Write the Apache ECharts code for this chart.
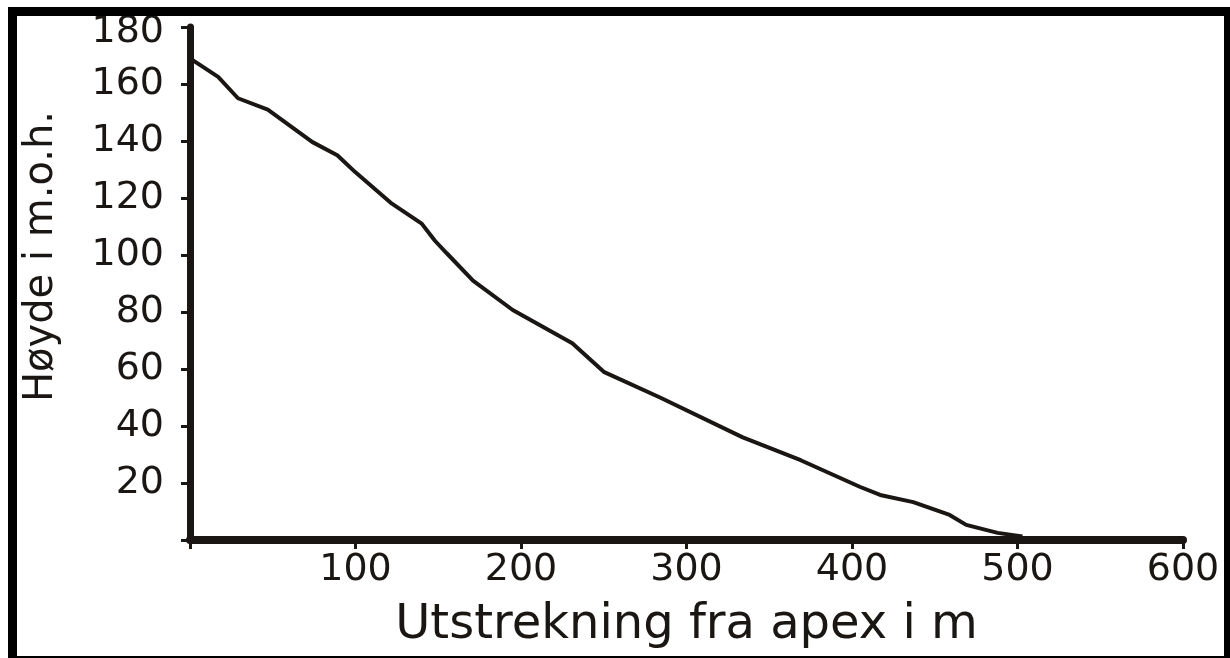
<!DOCTYPE html>
<html>
<head>
<meta charset="utf-8">
<script src="https://cdn.jsdelivr.net/npm/echarts@6/dist/echarts.min.js"></script>
<style>
html,body{margin:0;padding:0;background:#fff;}
#chart{width:1230px;height:658px;}
</style>
</head>
<body>
<div id="chart"></div>
<script>
// Distance from apex (m)
var distance = [0, 17, 29, 47, 74, 89, 100, 122, 140, 148, 155, 171, 195, 231, 250, 284, 334, 369, 405, 417, 437, 459, 469, 488, 503];
// Height (m.o.h.)
var height   = [169, 162.5, 155, 151, 139.6, 135, 129, 118, 111, 105, 100.7, 91, 80.7, 69, 59, 50, 36, 28, 18.6, 15.8, 13.3, 8.8, 5.3, 2.5, 1.2];
var xTicks = [0, 100, 200, 300, 400, 500, 600];
var yTicks = [0, 20, 40, 60, 80, 100, 120, 140, 160, 180];
var xTitle = 'Utstrekning fra apex i m';
var yTitle = 'Høyde i m.o.h.';

var seriesData = distance.map(function (d, i) { return [d, height[i]]; });
var ink = '#1a1614';
var font = 'DejaVu Sans';
var yMax = yTicks[yTicks.length - 1];

var chart = echarts.init(document.getElementById('chart'), null, {renderer: 'canvas'});
chart.setOption({
  backgroundColor: '#ffffff',
  animation: false,
  grid: {left: 190, right: 47, top: 27, bottom: 118, containLabel: false},
  xAxis: {
    type: 'value',
    min: xTicks[0], max: xTicks[xTicks.length - 1], interval: 100,
    name: xTitle,
    nameLocation: 'middle',
    nameGap: 62,
    nameTextStyle: {fontFamily: font, fontSize: 48, color: ink},
    axisLine: {show: true, onZero: false, lineStyle: {color: ink, width: 8}},
    axisTick: {show: true, inside: false, length: 9, lineStyle: {color: ink, width: 3}},
    axisLabel: {
      margin: 11, fontFamily: font, fontSize: 38, color: ink,
      formatter: function (v) { return v === 0 ? '' : String(v); }
    },
    splitLine: {show: false}
  },
  yAxis: {
    type: 'value',
    min: yTicks[0], max: yMax, interval: 20,
    name: yTitle,
    nameLocation: 'middle',
    nameGap: 128,
    nameRotate: 90,
    nameTextStyle: {fontFamily: font, fontSize: 40, color: ink, padding: [0, 0, 0, 54]},
    axisLine: {show: true, onZero: false, lineStyle: {color: ink, width: 7}},
    axisTick: {show: true, inside: false, length: 9, lineStyle: {color: ink, width: 3}},
    axisLabel: {
      margin: 26, fontFamily: font, fontSize: 38, color: ink,
      formatter: function (v) {
        if (v === 0) return '';
        if (v === yMax) return '{top|' + v + '}';
        return String(v);
      },
      rich: {top: {fontFamily: font, fontSize: 38, color: ink, padding: [10, 0, 0, 0]}}
    },
    splitLine: {show: false}
  },
  series: [{
    type: 'line',
    data: seriesData,
    showSymbol: false,
    smooth: false,
    lineStyle: {color: ink, width: 4},
    z: 1
  }],
  graphic: [{
    type: 'rect',
    shape: {x: 12.5, y: 11.5, width: 1216, height: 649},
    style: {fill: null, stroke: '#000000', lineWidth: 9},
    z: 100
  }]
});
</script>
</body>
</html>
